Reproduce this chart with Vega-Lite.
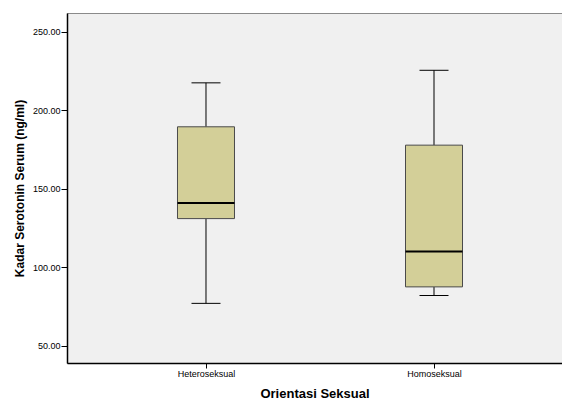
{
  "$schema": "https://vega.github.io/schema/vega-lite/v6.json",
  "width": 495,
  "height": 350,
  "autosize": "none",
  "padding": {"left": 67, "top": 13, "right": 0, "bottom": 38},
  "background": "white",
  "config": {
    "view": {"fill": "#f0f0f0", "stroke": "#8a8a8a", "strokeWidth": 1},
    "font": "Liberation Sans",
    "axis": {"domainColor": "#000000", "tickColor": "#000000", "labelColor": "#000000", "titleColor": "#000000", "grid": false, "labelFont": "Liberation Sans", "titleFont": "Liberation Sans"}
  },
  "data": {
    "values": [
      {"orient": "Heteroseksual", "min": 77, "q1": 131, "median": 141, "q3": 189.5, "max": 217.5},
      {"orient": "Homoseksual", "min": 82, "q1": 87.5, "median": 110, "q3": 177.8, "max": 225.5}
    ]
  },
  "encoding": {
    "x": {
      "field": "orient", "type": "nominal",
      "scale": {"type": "point", "padding": 0.5855, "align": 0.5206},
      "axis": {"title": "Orientasi Seksual", "labelAngle": 0, "labelFontSize": 9, "labelPadding": 1, "tickSize": 5, "titleFontSize": 13, "titleFontWeight": "bold", "titlePadding": 9, "domainWidth": 1.5}
    }
  },
  "layer": [
    {
      "mark": {"type": "rule", "color": "#000000", "strokeWidth": 1},
      "encoding": {
        "y": {"field": "min", "type": "quantitative",
          "scale": {"domain": [39, 262], "nice": false, "zero": false},
          "axis": {"title": "Kadar Serotonin Serum (ng/ml)", "values": [50, 100, 150, 200, 250], "format": ".2f", "labelFontSize": 9, "labelPadding": 1, "tickSize": 6, "titleFontSize": 12, "titleFontWeight": "bold", "titlePadding": 6, "domainWidth": 1.5}},
        "y2": {"field": "q1"}
      }
    },
    {
      "mark": {"type": "rule", "color": "#000000", "strokeWidth": 1},
      "encoding": {"y": {"field": "q3", "type": "quantitative"}, "y2": {"field": "max"}}
    },
    {
      "mark": {"type": "tick", "color": "#000000", "thickness": 1, "size": 29, "opacity": 1},
      "encoding": {"y": {"field": "min", "type": "quantitative"}}
    },
    {
      "mark": {"type": "tick", "color": "#000000", "thickness": 1, "size": 29, "opacity": 1},
      "encoding": {"y": {"field": "max", "type": "quantitative"}}
    },
    {
      "mark": {"type": "bar", "fill": "#d3cf98", "stroke": "#4a4a4a", "strokeWidth": 1, "size": 57},
      "encoding": {"y": {"field": "q1", "type": "quantitative"}, "y2": {"field": "q3"}}
    },
    {
      "mark": {"type": "tick", "color": "#000000", "thickness": 2, "size": 57, "opacity": 1},
      "encoding": {"y": {"field": "median", "type": "quantitative"}}
    }
  ]
}
